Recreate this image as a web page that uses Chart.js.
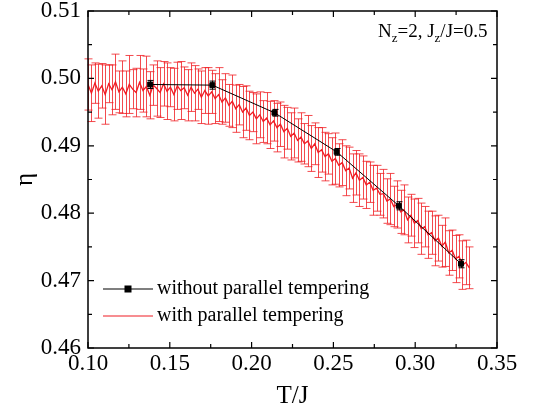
<!DOCTYPE html>
<html lang="en">
<head>
    <meta charset="UTF-8">
    <title>eta vs T/J</title>
    <script src="https://cdn.jsdelivr.net/npm/chart.js"></script>
    <style>
        body { margin: 0; background: #fff; }
        #wrap { width: 554px; height: 411px; }
    </style>
</head>
<body>
    <div id="wrap"><canvas id="etaChart" width="554" height="411"></canvas></div>
    <script>
        // without parallel tempering (black squares)
        const tPlain = [0.138, 0.176, 0.214, 0.252, 0.290, 0.328];
        const etaPlain = [0.4991, 0.4990, 0.4949, 0.4891, 0.4811, 0.4725];
        const errPlain = [0.0006, 0.0006, 0.0005, 0.0005, 0.0006, 0.0006];

        // with parallel tempering (red, dense)
        const tPT = [
            0.1000, 0.1021, 0.1042, 0.1063, 0.1084, 0.1105, 0.1126, 0.1147, 0.1168, 0.1189,
            0.1210, 0.1231, 0.1252, 0.1273, 0.1294, 0.1315, 0.1336, 0.1357, 0.1378, 0.1399,
            0.1420, 0.1441, 0.1462, 0.1483, 0.1504, 0.1525, 0.1546, 0.1567, 0.1588, 0.1609,
            0.1630, 0.1651, 0.1672, 0.1693, 0.1714, 0.1735, 0.1756, 0.1777, 0.1798, 0.1819,
            0.1840, 0.1861, 0.1882, 0.1903, 0.1924, 0.1945, 0.1966, 0.1987, 0.2008, 0.2029,
            0.2050, 0.2071, 0.2092, 0.2113, 0.2134, 0.2155, 0.2176, 0.2197, 0.2218, 0.2239,
            0.2260, 0.2281, 0.2302, 0.2323, 0.2344, 0.2365, 0.2386, 0.2407, 0.2428, 0.2449,
            0.2470, 0.2491, 0.2512, 0.2533, 0.2554, 0.2575, 0.2596, 0.2617, 0.2638, 0.2659,
            0.2680, 0.2701, 0.2722, 0.2743, 0.2764, 0.2785, 0.2806, 0.2827, 0.2848, 0.2869,
            0.2890, 0.2911, 0.2932, 0.2953, 0.2974, 0.2995, 0.3016, 0.3037, 0.3058, 0.3079,
            0.3100, 0.3121, 0.3142, 0.3163, 0.3184, 0.3205, 0.3226, 0.3247, 0.3268, 0.3289,
            0.3310, 0.3331
        ];
        const etaPT = [
            0.4991, 0.4978, 0.4993, 0.4981, 0.4989, 0.4976, 0.4992, 0.4983, 0.4995, 0.4980,
            0.4987, 0.4977, 0.4991, 0.4984, 0.4979, 0.4994, 0.4982, 0.4988, 0.4975, 0.4990,
            0.4985, 0.4979, 0.4992, 0.4981, 0.4987, 0.4976, 0.4989, 0.4982, 0.4986, 0.4975,
            0.4987, 0.4978, 0.4984, 0.4972, 0.4982, 0.4974, 0.4980, 0.4970, 0.4976, 0.4965,
            0.4971, 0.4960, 0.4966, 0.4955, 0.4961, 0.4950, 0.4956, 0.4945, 0.4950, 0.4940,
            0.4946, 0.4936, 0.4941, 0.4931, 0.4937, 0.4927, 0.4932, 0.4921, 0.4926, 0.4914,
            0.4919, 0.4908, 0.4913, 0.4903, 0.4907, 0.4896, 0.4903, 0.4890, 0.4894, 0.4884,
            0.4888, 0.4877, 0.4881, 0.4871, 0.4875, 0.4863, 0.4867, 0.4852, 0.4860, 0.4849,
            0.4853, 0.4842, 0.4846, 0.4834, 0.4837, 0.4828, 0.4829, 0.4818, 0.4821, 0.4810,
            0.4813, 0.4802, 0.4805, 0.4790, 0.4797, 0.4785, 0.4789, 0.4777, 0.4780, 0.4768,
            0.4771, 0.4759, 0.4763, 0.4751, 0.4757, 0.4741, 0.4745, 0.4732, 0.4736, 0.4723,
            0.4727, 0.4719
        ];
        const errPT = [
            0.0038, 0.0042, 0.0030, 0.0040, 0.0033, 0.0044, 0.0028, 0.0037, 0.0041, 0.0031,
            0.0039, 0.0034, 0.0043, 0.0029, 0.0036, 0.0040, 0.0032, 0.0045, 0.0035, 0.0030,
            0.0041, 0.0037, 0.0033, 0.0042, 0.0029, 0.0039, 0.0035, 0.0043, 0.0031, 0.0038,
            0.0036, 0.0041, 0.0030, 0.0039, 0.0034, 0.0042, 0.0032, 0.0037, 0.0040, 0.0033,
            0.0036, 0.0031, 0.0039, 0.0035, 0.0030, 0.0038, 0.0033, 0.0036, 0.0029, 0.0037,
            0.0034, 0.0031, 0.0038, 0.0035, 0.0030, 0.0036, 0.0033, 0.0039, 0.0031, 0.0035,
            0.0037, 0.0032, 0.0036, 0.0030, 0.0038, 0.0034, 0.0031, 0.0037, 0.0033, 0.0036,
            0.0030, 0.0035, 0.0038, 0.0032, 0.0034, 0.0037, 0.0031, 0.0036, 0.0033, 0.0039,
            0.0032, 0.0035, 0.0030, 0.0037, 0.0034, 0.0031, 0.0036, 0.0033, 0.0038, 0.0030,
            0.0035, 0.0032, 0.0037, 0.0034, 0.0031, 0.0036, 0.0033, 0.0038, 0.0030, 0.0035,
            0.0032, 0.0037, 0.0034, 0.0031, 0.0036, 0.0033, 0.0030, 0.0035, 0.0032, 0.0036,
            0.0033, 0.0031
        ];

        const xTicks = [0.10, 0.15, 0.20, 0.25, 0.30, 0.35];
        const yTicks = [0.46, 0.47, 0.48, 0.49, 0.50, 0.51];

        const serif = "'Liberation Serif', 'DejaVu Serif', serif";
        Chart.defaults.font.family = serif;
        Chart.defaults.color = '#000';

        // error bars, drawn just before each dataset's own line
        const errorBars = {
            id: 'errorBars',
            beforeDatasetDraw(chart, args) {
                const ds = chart.data.datasets[args.index];
                if (!ds.errors) return;
                const ctx = chart.ctx, xs = chart.scales.x, ys = chart.scales.y;
                ctx.save();
                ctx.strokeStyle = ds.errorColor;
                ctx.lineWidth = 1;
                ds.data.forEach((p, i) => {
                    const px = Math.round(xs.getPixelForValue(p.x)) + 0.5;
                    const top = ys.getPixelForValue(p.y + ds.errors[i]);
                    const bot = ys.getPixelForValue(p.y - ds.errors[i]);
                    ctx.beginPath();
                    ctx.moveTo(px, top); ctx.lineTo(px, bot);
                    ctx.moveTo(px - ds.capSize, top); ctx.lineTo(px + ds.capSize, top);
                    ctx.moveTo(px - ds.capSize, bot); ctx.lineTo(px + ds.capSize, bot);
                    ctx.stroke();
                });
                ctx.restore();
            }
        };

        // box frame with inward major/minor ticks on all four sides
        const frame = {
            id: 'frame',
            afterDraw(chart) {
                const ctx = chart.ctx, a = chart.chartArea;
                const xs = chart.scales.x, ys = chart.scales.y;
                ctx.save();
                ctx.strokeStyle = '#000';
                ctx.lineWidth = 1.5;
                ctx.strokeRect(a.left, a.top, a.right - a.left, a.bottom - a.top);
                ctx.lineWidth = 1.2;
                ctx.beginPath();
                for (let i = 0; i < xTicks.length; i++) {
                    const v = xTicks[i];
                    const px = xs.getPixelForValue(v);
                    ctx.moveTo(px, a.bottom); ctx.lineTo(px, a.bottom - 6);
                    ctx.moveTo(px, a.top); ctx.lineTo(px, a.top + 6);
                    if (i < xTicks.length - 1) {
                        const pm = xs.getPixelForValue(v + 0.025);
                        ctx.moveTo(pm, a.bottom); ctx.lineTo(pm, a.bottom - 4);
                        ctx.moveTo(pm, a.top); ctx.lineTo(pm, a.top + 4);
                    }
                }
                for (let i = 0; i < yTicks.length; i++) {
                    const v = yTicks[i];
                    const py = ys.getPixelForValue(v);
                    ctx.moveTo(a.left, py); ctx.lineTo(a.left + 6, py);
                    ctx.moveTo(a.right, py); ctx.lineTo(a.right - 6, py);
                    if (i < yTicks.length - 1) {
                        const pm = ys.getPixelForValue(v + 0.005);
                        ctx.moveTo(a.left, pm); ctx.lineTo(a.left + 4, pm);
                        ctx.moveTo(a.right, pm); ctx.lineTo(a.right - 4, pm);
                    }
                }
                ctx.stroke();

                // annotation N_z=2, J_z/J=0.5
                let x = 378;
                const base = a.top + 26;
                const big = '19px ' + serif, small = '13px ' + serif;
                const parts = [['N', big, 0], ['z', small, 5], ['=2, J', big, 0], ['z', small, 5], ['/J=0.5', big, 0]];
                ctx.fillStyle = '#000';
                ctx.textBaseline = 'alphabetic';
                parts.forEach(([t, f, dy]) => {
                    ctx.font = f;
                    ctx.fillText(t, x, base + dy);
                    x += ctx.measureText(t).width;
                });

                // legend
                ctx.font = '20px ' + serif;
                ctx.textBaseline = 'middle';
                const rows = [289, 316];
                chart.data.datasets.forEach((ds, i) => {
                    const y = rows[i];
                    ctx.strokeStyle = ds.borderColor;
                    ctx.lineWidth = 1.2;
                    ctx.beginPath(); ctx.moveTo(103, y); ctx.lineTo(153, y); ctx.stroke();
                    if (ds.pointRadius > 0) {
                        ctx.fillStyle = '#000';
                        ctx.fillRect(124.5, y - 3.5, 7, 7);
                    }
                    ctx.fillStyle = '#000';
                    ctx.fillText(ds.label, 157, y);
                });
                ctx.restore();
            }
        };

        const ctx = document.getElementById('etaChart').getContext('2d');
        new Chart(ctx, {
            type: 'line',
            data: {
                datasets: [{
                    label: 'without parallel tempering',
                    data: tPlain.map((t, i) => ({ x: t, y: etaPlain[i] })),
                    errors: errPlain,
                    errorColor: '#000',
                    capSize: 3,
                    borderColor: '#000',
                    borderWidth: 1,
                    pointStyle: 'rect',
                    pointRadius: 3.5,
                    pointBackgroundColor: '#000',
                    pointBorderColor: '#000'
                }, {
                    label: 'with parallel tempering',
                    data: tPT.map((t, i) => ({ x: t, y: etaPT[i] })),
                    errors: errPT,
                    errorColor: 'rgba(240, 30, 35, 0.8)',
                    capSize: 4,
                    borderColor: '#f01c24',
                    borderWidth: 1.3,
                    pointRadius: 0
                }]
            },
            options: {
                responsive: false,
                animation: false,
                layout: { padding: { top: 11, right: 57, left: 0, bottom: 0 } },
                plugins: { legend: { display: false }, tooltip: { enabled: false } },
                scales: {
                    x: {
                        type: 'linear',
                        min: 0.10, max: 0.35,
                        afterBuildTicks: s => { s.ticks = xTicks.map(v => ({ value: v })); },
                        afterFit: s => { s.height = 63; },
                        grid: { display: false, drawTicks: false },
                        border: { display: false },
                        ticks: { padding: 4, font: { size: 23, lineHeight: 1 }, maxRotation: 0, callback: v => v.toFixed(2) },
                        title: { display: true, text: 'T/J', font: { size: 25 }, padding: { top: 0, bottom: 0 } }
                    },
                    y: {
                        min: 0.46, max: 0.51,
                        afterBuildTicks: s => { s.ticks = yTicks.map(v => ({ value: v })); },
                        afterFit: s => { s.width = 88; s.paddingTop = 0; s.paddingBottom = 0; },
                        grid: { display: false, drawTicks: false },
                        border: { display: false },
                        ticks: { padding: 7, font: { size: 23, lineHeight: 1 }, callback: v => v.toFixed(2) },
                        title: { display: true, text: 'η', font: { size: 25 }, padding: { top: 10, bottom: 0 } }
                    }
                }
            },
            plugins: [errorBars, frame]
        });
    </script>
</body>
</html>
